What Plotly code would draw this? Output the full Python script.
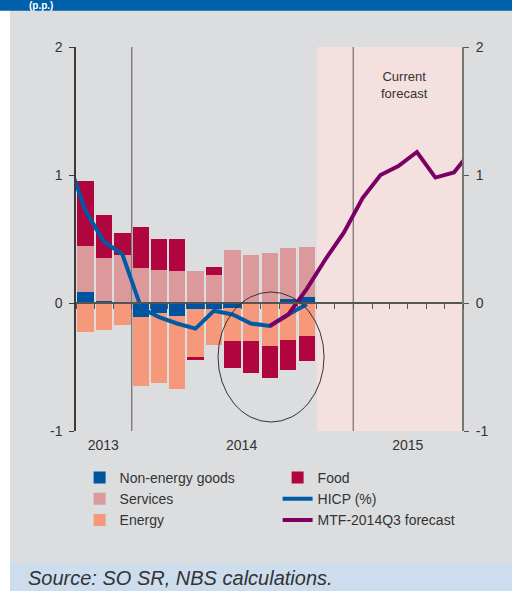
import plotly.graph_objects as go

# ---------------- data ----------------
months = ["2013-10-01", "2013-11-01", "2013-12-01", "2014-01-01", "2014-02-01",
          "2014-03-01", "2014-04-01", "2014-05-01", "2014-06-01", "2014-07-01",
          "2014-08-01", "2014-09-01", "2014-10-01"]
non_energy_goods = [0.086, 0.016, 0.0, -0.107, -0.078, -0.10, -0.047, -0.047, -0.04, -0.01, 0.0, 0.035, 0.045]
services = [0.36, 0.335, 0.375, 0.273, 0.257, 0.25, 0.25, 0.218, 0.413, 0.374, 0.39, 0.397, 0.39]
energy = [-0.23, -0.21, -0.17, -0.54, -0.545, -0.57, -0.374, -0.28, -0.257, -0.288, -0.335, -0.288, -0.257]
food = [0.51, 0.335, 0.17, 0.32, 0.24, 0.25, -0.023, 0.062, -0.21, -0.25, -0.25, -0.234, -0.195]

hicp_months = ["2013-09-01", "2013-10-01", "2013-11-01", "2013-12-01", "2014-01-01",
               "2014-02-01", "2014-03-01", "2014-04-01", "2014-05-01", "2014-06-01",
               "2014-07-01", "2014-08-01", "2014-09-01", "2014-10-01"]
hicp = [1.14, 0.72, 0.48, 0.38, -0.04, -0.11, -0.16, -0.20, -0.06, -0.09, -0.16, -0.18, -0.09, -0.01]

mtf_months = ["2014-08-01", "2014-09-01", "2014-10-01", "2014-11-01", "2014-12-01",
              "2015-01-01", "2015-02-01", "2015-03-01", "2015-04-01", "2015-05-01",
              "2015-06-01", "2015-07-01"]
mtf = [-0.18, -0.09, 0.11, 0.34, 0.55, 0.82, 1.0, 1.07, 1.18, 0.98, 1.02, 1.2]

year_ticks = ["2013-11-15", "2014-07-01", "2015-04-01"]
year_labels = ["2013", "2014", "2015"]
y_ticks = [-1, 0, 1, 2]
y_labels = ["-1", "0", "1", "2"]

# ---------------- styles ----------------
C_NEG = "#00539F"
C_SERV = "#DC999C"
C_ENERGY = "#F6997A"
C_FOOD = "#B0053F"
C_HICP = "#005AA5"
C_MTF = "#7B0064"
C_GRAY = "#DCDDDF"
C_FORE = "#F5E0E0"
FONT = "Liberation Sans, Arial, sans-serif"
BAR_W = 26.8 * 86400000

fig = go.Figure()

def add_bar(name, vals, color, rank):
    fig.add_trace(go.Bar(
        x=months, y=vals, name=name, marker=dict(color=color, line=dict(width=0)),
        xperiod="M1", xperiodalignment="middle", width=BAR_W, legendrank=rank,
    ))

add_bar("Non-energy goods", non_energy_goods, C_NEG, 1)
add_bar("Services", services, C_SERV, 3)
add_bar("Energy", energy, C_ENERGY, 5)
add_bar("Food", food, C_FOOD, 2)

fig.add_trace(go.Scatter(
    x=hicp_months, y=hicp, name="HICP (%)", mode="lines",
    line=dict(color=C_HICP, width=4), xperiod="M1", xperiodalignment="middle",
    legendrank=4,
))
fig.add_trace(go.Scatter(
    x=mtf_months, y=mtf, name="MTF-2014Q3 forecast", mode="lines",
    line=dict(color=C_MTF, width=4), xperiod="M1", xperiodalignment="middle",
    xaxis="x2", yaxis="y2", legendrank=6,
))

x_range = ["2013-10-01", "2015-07-01"]
y_range = [-1, 2]

fig.update_layout(
    width=512, height=591,
    margin=dict(l=76, r=49, t=47, b=160, pad=0),
    paper_bgcolor="white", plot_bgcolor="rgba(0,0,0,0)",
    font=dict(family=FONT, size=14, color="#333333"),
    barmode="relative", bargap=0,
    showlegend=True,
    legend=dict(
        orientation="h", x=-0.001, xanchor="left", y=-0.070, yanchor="top",
        entrywidth=153, entrywidthmode="pixels", borderwidth=4,
        bordercolor="rgba(0,0,0,0)", bgcolor="rgba(0,0,0,0)",
        font=dict(family=FONT, size=14, color="#333333"),
    ),
    xaxis=dict(
        type="date", range=x_range, showgrid=False, zeroline=False, showline=False,
        ticks="", tickmode="array", tickvals=year_ticks, ticktext=year_labels,
        ticklabelstandoff=4, tickfont=dict(size=14, color="#333333"),
    ),
    xaxis2=dict(
        type="date", matches="x", overlaying="x", anchor="free", position=1/3,
        side="bottom", showgrid=False, zeroline=False, showline=True,
        linecolor="#555555", linewidth=1.5, ticks="outside", ticklen=5,
        tickwidth=1, tickcolor="#555555", tick0="2013-10-01", dtick="M1",
        showticklabels=False,
    ),
    yaxis=dict(
        range=y_range, tickmode="array", tickvals=y_ticks, ticktext=y_labels,
        showgrid=False, zeroline=False, showline=True, linecolor="#3a3a3a",
        linewidth=1.5, ticks="outside", ticklen=5, tickwidth=1, tickcolor="#3a3a3a",
        ticklabelstandoff=4, tickfont=dict(size=14, color="#333333"),
    ),
    yaxis2=dict(
        range=y_range, matches="y", overlaying="y", side="right", anchor="free",
        position=1, tickmode="array", tickvals=y_ticks, ticktext=y_labels,
        showgrid=False, zeroline=False, showline=True, linecolor="#777777",
        linewidth=2, ticks="outside", ticklen=5, tickwidth=1, tickcolor="#555555",
        ticklabelstandoff=4, tickfont=dict(size=14, color="#333333"),
    ),
)

shapes = [
    # page background panels
    dict(type="rect", xref="paper", yref="paper", x0=(10 - 76) / 387, x1=(512 - 76) / 387,
         y0=-(563 - 431) / 384, y1=1 + 47 / 384, fillcolor=C_GRAY, line=dict(width=0), layer="below"),
    dict(type="rect", xref="paper", yref="paper", x0=(10 - 76) / 387, x1=(512 - 76) / 387,
         y0=-(600 - 431) / 384, y1=-(563 - 431) / 384, fillcolor="#CDDDED", line=dict(width=0), layer="below"),
    dict(type="rect", xref="paper", yref="paper", x0=-76 / 387, x1=(512 - 76) / 387,
         y0=1 + (47 - 10.7) / 384, y1=1 + 60 / 384, fillcolor="#0061AA", line=dict(width=0), layer="below"),
    # forecast shading
    dict(type="rect", xref="x", yref="paper", x0="2014-11-02", x1=x_range[1], y0=0, y1=1,
         fillcolor=C_FORE, line=dict(width=0), layer="below"),
    # year separators
    dict(type="line", xref="x", yref="paper", x0="2014-01-01", x1="2014-01-01", y0=0, y1=1,
         line=dict(color="#555555", width=1), layer="below"),
    dict(type="line", xref="x", yref="paper", x0="2015-01-01", x1="2015-01-01", y0=0, y1=1,
         line=dict(color="#555555", width=1), layer="below"),
    # highlight ellipse
    dict(type="circle", xref="paper", yref="y", x0=0.367, x1=0.641, y0=-0.93, y1=0.086,
         line=dict(color="#333333", width=1), fillcolor="rgba(0,0,0,0)", layer="above"),
]
fig.update_layout(shapes=shapes)

fig.add_annotation(
    text="Current<br>forecast", xref="paper", yref="y", x=0.85, y=1.70,
    xanchor="center", yanchor="middle", showarrow=False,
    font=dict(family="Liberation Sans Narrow, Arial Narrow, Liberation Sans, sans-serif", size=13, color="#333333"),
)
fig.add_annotation(
    text="Source: SO SR, NBS calculations.", xref="paper", yref="paper",
    x=(27 - 76) / 387, y=-(590 - 431) / 384, xanchor="left", yanchor="bottom",
    showarrow=False, borderpad=0,
    font=dict(family=FONT, size=20, color="#333333", style="italic"),
)
fig.add_annotation(
    text="<b>(p.p.)</b>", xref="paper", yref="paper",
    x=(28 - 76) / 387, y=1 + (47 - 5.3) / 384, xanchor="left", yanchor="middle",
    showarrow=False, borderpad=0,
    font=dict(family=FONT, size=10, color="white"),
)

fig.write_html(
    "out.html",
    config={"displayModeBar": False},
    post_script="document.body.style.margin='0';document.body.style.padding='0';document.body.style.overflow='hidden';",
)
